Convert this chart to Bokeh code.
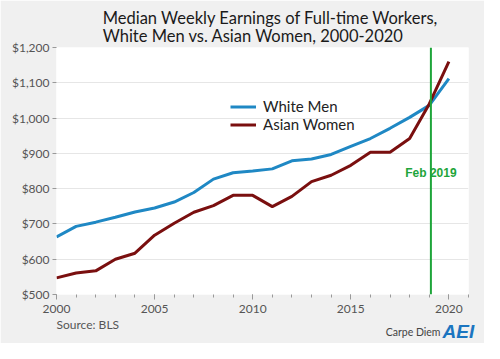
from bokeh.plotting import figure
from bokeh.models import (Legend, LegendItem, Span, Label, SingleIntervalTicker,
                          FixedTicker, NumeralTickFormatter, Range1d, Title)
from bokeh.embed import file_html
from bokeh.resources import INLINE

years = list(range(2000, 2021))
white_men = [663, 693, 705, 719, 734, 745, 762, 789, 827, 845, 850, 856, 879, 884,
             897, 920, 942, 971, 1002, 1036, 1112]
asian_women = [547, 561, 567, 600, 617, 668, 702, 733, 752, 781, 781, 749, 778, 820,
               838, 866, 903, 903, 942, 1040, 1160]
y_ticks = [500, 600, 700, 800, 900, 1000, 1100, 1200]
marker_year = 2019 + 1 / 12
marker_label = "Feb 2019"
title_lines = ["Median Weekly Earnings of Full-time Workers,",
               "White Men vs. Asian Women, 2000-2020"]

BG = "#f0f0f0"
BLUE = "#1f88c4"
MAROON = "#7a0f0f"
GREEN = "#1ea53a"
FONT = "Lato"

p = figure(width=484, height=343, output_backend="svg", toolbar_location=None,
           x_range=Range1d(2000, 2021), y_range=Range1d(500, 1200),
           min_border_left=56, min_border_right=16, min_border_top=47,
           min_border_bottom=49)
p.border_fill_color = BG
p.background_fill_color = "white"
p.outline_line_color = None

p.title.text = "\n".join(title_lines)
p.title.align = "right"
p.title.offset = 30
p.title.text_font = FONT
p.title.text_font_size = "16.5px"
p.title.text_font_style = "normal"
p.title.text_color = "#1a1a1a"
p.title.text_line_height = 0.92
p.title.standoff = 3

p.xgrid.grid_line_color = None
p.ygrid.grid_line_color = "#e6e6e6"
p.ygrid.grid_line_width = 1

p.xaxis.ticker = SingleIntervalTicker(interval=5, num_minor_ticks=5)
p.yaxis.ticker = FixedTicker(ticks=y_ticks)
p.yaxis.formatter = NumeralTickFormatter(format="$0,0")
for ax in (p.xaxis, p.yaxis):
    ax.axis_line_color = None
    ax.major_tick_line_color = "#999999"
    ax.minor_tick_line_color = "#999999"
    ax.major_tick_in = 0
    ax.minor_tick_in = 0
    ax.major_label_text_color = "#555555"
    ax.major_label_text_font = FONT
    ax.major_label_text_font_size = "12px"
p.xaxis.major_tick_out = 5
p.xaxis.minor_tick_out = 3
p.xaxis.major_label_standoff = 5
p.yaxis.major_tick_out = 4
p.yaxis.minor_tick_line_color = None
p.yaxis.major_label_standoff = 3

r_w = p.line(years, white_men, line_color=BLUE, line_width=3)
r_a = p.line(years, asian_women, line_color=MAROON, line_width=3)

p.add_layout(Span(location=marker_year, dimension="height", line_color=GREEN,
                  line_width=2))
p.add_layout(Label(x=marker_year, y=844, text=marker_label, text_align="center",
                   text_baseline="alphabetic", text_color=GREEN,
                   text_font="Liberation Sans", text_font_style="bold",
                   text_font_size="12px"))

legend = Legend(items=[LegendItem(label="White Men", renderers=[r_w]),
                       LegendItem(label="Asian Women", renderers=[r_a])],
                location=(174, 161), padding=0, margin=0, spacing=0,
                glyph_width=26, glyph_height=17, label_height=17,
                label_standoff=7, border_line_color=None,
                background_fill_alpha=0, label_text_font=FONT,
                label_text_font_size="15px", label_text_color="#222222")
p.add_layout(legend, "center")

# footer texts stacked below the axis
p.add_layout(Title(text="Source: BLS", align="left", offset=0, text_font=FONT,
                   text_font_size="12px", text_font_style="normal",
                   text_color="#555555", standoff=-2), "below")
p.add_layout(Title(text="Carpe Diem", align="right", offset=28, text_font=FONT,
                   text_font_size="10.5px", text_font_style="normal",
                   text_color="#444444", standoff=-14), "below")
p.add_layout(Title(text="AEI", align="left", offset=386,
                   text_font="Liberation Sans", text_font_size="19px",
                   text_font_style="bold italic", text_color="#1b75c0",
                   standoff=-23), "below")

open("out.html", "w").write(file_html(p, INLINE))
